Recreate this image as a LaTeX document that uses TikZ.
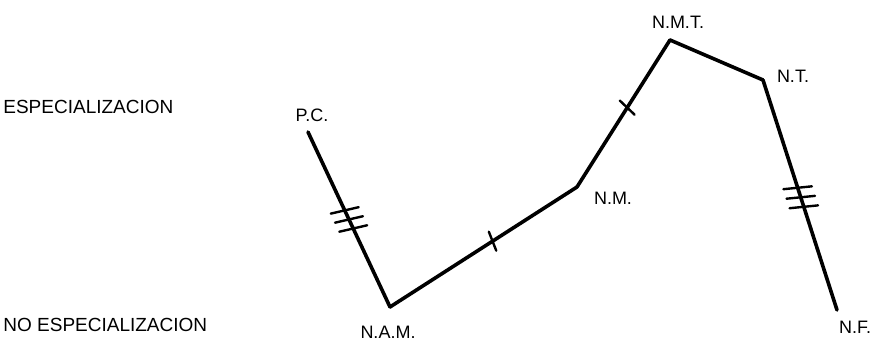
\documentclass[tikz,border=0pt]{standalone}
\usepackage{fontspec}
\setmainfont{Liberation Sans}
\usetikzlibrary{decorations.markings,calc}

\begin{document}
\begin{tikzpicture}[
    x=0.5pt,
    y=-0.5pt,
    font=\fontsize{9.5}{11}\selectfont,
    level/.style={anchor=west, inner sep=0pt},
    stage/.style={inner sep=1pt, font=\fontsize{9}{10}\selectfont},
    trail/.style={line width=1.8pt, line cap=round},
    onebar/.style={postaction={decorate, decoration={markings,
        mark=at position #1 with {\draw[line width=1.2pt] (-1pt,-5pt) -- (1pt,5pt);}}}},
    threebars/.style={postaction={decorate, decoration={markings,
        mark=at position #1 with {\foreach \d in {-5,0,5}
            \draw[line width=1.2pt] ([xshift=\d pt]-1.5pt,-7pt) -- ([xshift=\d pt]1.5pt,7pt);}}}}
]
\useasboundingbox (0,0) rectangle (885,357);

% ============================================================
% NIVELES
% ============================================================
\node[level] (esp) at (3,107) {ESPECIALIZACION};
\node[level] (noesp) at (3,325) {NO ESPECIALIZACION};

% ============================================================
% TRAYECTORIA
% ============================================================
\coordinate (pc)  at (308,132);
\coordinate (nam) at (390,307);
\coordinate (nm)  at (577,187);
\coordinate (nmt) at (670,40);
\coordinate (nt)  at (763,80);
\coordinate (nf)  at (837,310);

\draw[trail, threebars=0.5] (pc) -- (nam);
\draw[trail, onebar=0.55] (nam) -- (nm);
\draw[trail, onebar=0.54] (nm) -- (nmt);
\draw[trail] (nmt) -- (nt);
\draw[trail, threebars=0.51] (nt) -- (nf);

% etapas
\node[stage] (pclab)  at (312,115) {P.C.};
\node[stage] (namlab) at (388,332) {N.A.M.};
\node[stage] (nmlab)  at (613,198) {N.M.};
\node[stage] (nmtlab) at (678,22)  {N.M.T.};
\node[stage] (ntlab)  at (793,76)  {N.T.};
\node[stage] (nflab)  at (855,327) {N.F.};

\end{tikzpicture}
\end{document}
